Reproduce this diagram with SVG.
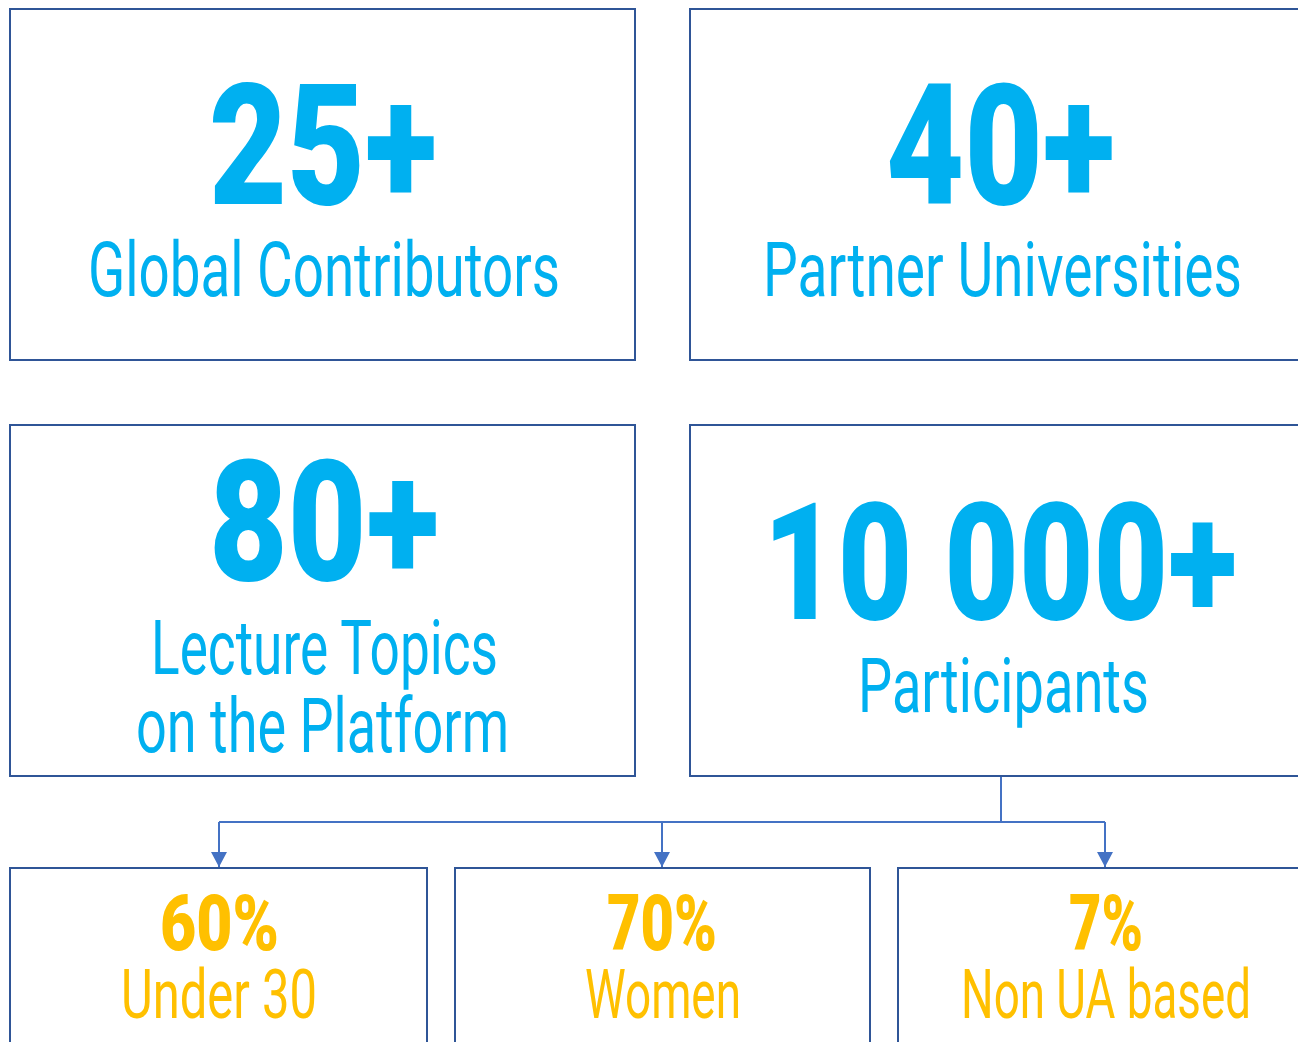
<svg xmlns="http://www.w3.org/2000/svg" width="1298" height="1042" viewBox="0 0 1298 1042">
<style>
.box{fill:#fff;stroke:#2F5597;stroke-width:2}
.big{font-family:Roboto,"Liberation Sans",sans-serif;font-weight:900;fill:#00B0F0}
.lbl{font-family:Roboto,"Liberation Sans",sans-serif;font-weight:400;fill:#00B0F0}
.pct{font-family:Roboto,"Liberation Sans",sans-serif;font-weight:900;fill:#FFC000;font-size:77px}
.sub{font-family:Roboto,"Liberation Sans",sans-serif;font-weight:400;fill:#FFC000;font-size:68px}
.conn{fill:none;stroke:#4472C4;stroke-width:2}
</style>
<defs>
<marker id="arr" markerUnits="userSpaceOnUse" markerWidth="16" markerHeight="16" refX="15" refY="8" orient="auto">
<path d="M0,0 L15,8 L0,16 Z" fill="#4472C4"/>
</marker>
</defs>
<rect width="1298" height="1042" fill="#fff"/>
<g id="connectors">
<path class="conn" d="M1001,777 V822"/>
<path class="conn" d="M219,822 H1105"/>
<path class="conn" d="M219,822 V867" marker-end="url(#arr)"/>
<path class="conn" d="M662,822 V867" marker-end="url(#arr)"/>
<path class="conn" d="M1105,822 V867" marker-end="url(#arr)"/>
</g>
<g id="node-contributors">
<rect class="box" x="10" y="9" width="625" height="351"/>
<text class="big" x="209" y="204" font-size="168" textLength="228" lengthAdjust="spacingAndGlyphs">25+</text>
<text class="lbl" x="88" y="296" font-size="76" textLength="472" lengthAdjust="spacingAndGlyphs">Global Contributors</text>
</g>
<g id="node-universities">
<rect class="box" x="690" y="9" width="620" height="351"/>
<text class="big" x="886" y="204" font-size="168" textLength="229" lengthAdjust="spacingAndGlyphs">40+</text>
<text class="lbl" x="763" y="296" font-size="76" textLength="479" lengthAdjust="spacingAndGlyphs">Partner Universities</text>
</g>
<g id="node-topics">
<rect class="box" x="10" y="425" width="625" height="351"/>
<text class="big" x="209" y="580" font-size="168" textLength="230" lengthAdjust="spacingAndGlyphs">80+</text>
<text class="lbl" x="151" y="674" font-size="76" textLength="347" lengthAdjust="spacingAndGlyphs">Lecture Topics</text>
<text class="lbl" x="136" y="752" font-size="76" textLength="373" lengthAdjust="spacingAndGlyphs">on the Platform</text>
</g>
<g id="node-participants">
<rect class="box" x="690" y="425" width="620" height="351"/>
<text class="big" x="763" y="619" font-size="164" textLength="474" lengthAdjust="spacingAndGlyphs">10 000+</text>
<text class="lbl" x="858" y="712" font-size="76" textLength="291" lengthAdjust="spacingAndGlyphs">Participants</text>
</g>
<g id="node-under30">
<rect class="box" x="10" y="868" width="417" height="200"/>
<text class="pct" x="160" y="950" textLength="119" lengthAdjust="spacingAndGlyphs">60%</text>
<text class="sub" x="121" y="1018" textLength="196" lengthAdjust="spacingAndGlyphs">Under 30</text>
</g>
<g id="node-women">
<rect class="box" x="455" y="868" width="415" height="200"/>
<text class="pct" x="607" y="950" textLength="110" lengthAdjust="spacingAndGlyphs">70%</text>
<text class="sub" x="585" y="1018" textLength="156" lengthAdjust="spacingAndGlyphs">Women</text>
</g>
<g id="node-nonua">
<rect class="box" x="898" y="868" width="420" height="200"/>
<text class="pct" x="1069" y="950" textLength="74" lengthAdjust="spacingAndGlyphs">7%</text>
<text class="sub" x="961" y="1018" textLength="290" lengthAdjust="spacingAndGlyphs">Non UA based</text>
</g>
</svg>
